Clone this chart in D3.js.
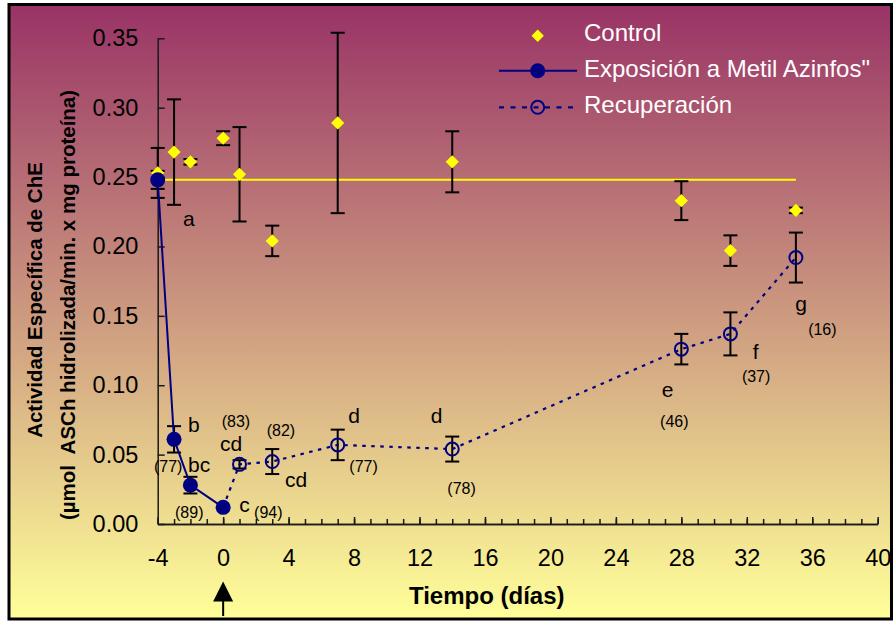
<!DOCTYPE html>
<html>
<head>
<meta charset="utf-8">
<script src="https://cdn.jsdelivr.net/npm/d3@7"></script>
<style>
  html, body { margin: 0; padding: 0; background: #ffffff; }
  svg { display: block; font-family: "Liberation Sans", Arial, sans-serif; }
</style>
</head>
<body>
<svg id="chart" width="893" height="621"></svg>
<script>
// Actividad específica de ChE (µmol ASCh hidrolizada/min. x mg proteína) por día
const controlDays  = [-4, -3, -2, 0, 1, 3, 7, 14, 28, 31, 35];
const controlMean  = [0.253, 0.268, 0.261, 0.278, 0.252, 0.204, 0.289, 0.261, 0.233, 0.197, 0.226];
const controlErr   = [0.018, 0.038, 0.002, 0.005, 0.034, 0.011, 0.065, 0.022, 0.014, 0.011, 0.002];
const controlLevel = 0.248;

const exposureDays = [-4, -3, -2, 0];
const exposureMean = [0.248, 0.061, 0.028, 0.012];
const exposureErr  = [0.0065, 0.0095, 0.006, 0];

const recoveryDays = [0, 1, 3, 7, 14, 28, 31, 35];
const recoveryMean = [0.012, 0.043, 0.045, 0.057, 0.054, 0.126, 0.137, 0.192];
const recoveryErr  = [0, 0.003, 0.009, 0.011, 0.009, 0.011, 0.0155, 0.018];

// letras de significación y porcentaje de inhibición
const sigLetters = ["a", "b", "bc", "c", "cd", "cd", "d", "d", "e", "f", "g"];
const inhibition = ["(77)", "(89)", "(94)", "(83)", "(82)", "(77)", "(78)", "(46)", "(37)", "(16)"];

const xTicks = [-4, 0, 4, 8, 12, 16, 20, 24, 28, 32, 36, 40];
const yTicks = [0, 0.05, 0.10, 0.15, 0.20, 0.25, 0.30, 0.35];
const seriesNames = ["Control", "Exposición a Metil Azinfos\"", "Recuperación"];
const xTitle = "Tiempo (días)";
const yTitle = ["Actividad Específica de ChE", "(µmol  ASCh hidrolizada/min. x mg proteína)"];

// ---------------------------------------------------------------------------
const svg = d3.select("#chart");
const NAVY = "#000080", YELLOW = "#ffff00";

const x = d3.scaleLinear().domain([-4, 40]).range([157.7, 877.7]);
const y = d3.scaleLinear().domain([0, 0.35]).range([524, 38.3]);

// background gradient + frame
const defs = svg.append("defs");
const grad = defs.append("linearGradient").attr("id", "bg")
  .attr("x1", 0).attr("y1", 0).attr("x2", 0).attr("y2", 1);
grad.append("stop").attr("offset", 0).attr("stop-color", "#993366");
grad.append("stop").attr("offset", 1).attr("stop-color", "#ffff99");

svg.append("rect")
  .attr("x", 9).attr("y", 4.5).attr("width", 882.5).attr("height", 614.5)
  .attr("fill", "url(#bg)").attr("stroke", "#000").attr("stroke-width", 3);

// axes
const axisColor = "#1a1a1a";
const styleAxis = g => {
  g.selectAll("path, line").attr("stroke", axisColor).attr("stroke-width", 1.5);
  g.selectAll("text").attr("fill", "#000").attr("font-size", 23.5)
    .attr("font-family", "\"Liberation Sans\", Arial, sans-serif");
};

svg.append("g").attr("transform", `translate(0,${y(0)})`)
  .call(d3.axisBottom(x).tickValues(d3.range(-4, 41, 1)).tickSize(-5).tickSizeOuter(0).tickFormat(""))
  .call(styleAxis);

svg.append("g").attr("transform", `translate(0,${y(0)})`)
  .call(d3.axisBottom(x).tickValues(xTicks).tickSize(-7).tickSizeOuter(0)
    .tickPadding(25).tickFormat(d => String(d)))
  .call(styleAxis);

svg.append("g").attr("transform", `translate(${x(-4)},0)`)
  .call(d3.axisLeft(y).tickValues(yTicks).tickSize(-7).tickSizeOuter(0)
    .tickPadding(19.4).tickFormat(d3.format(".2f")))
  .call(styleAxis);

// axis titles
svg.append("text")
  .attr("x", 486.7).attr("y", 604)
  .attr("text-anchor", "middle").attr("font-weight", "bold").attr("font-size", 24)
  .attr("fill", "#000").text(xTitle);

const yT = [[41.7, 300], [75, 305]];
yTitle.forEach((t, i) => {
  svg.append("text")
    .attr("transform", `translate(${yT[i][0]},${yT[i][1]}) rotate(-90)`)
    .attr("text-anchor", "middle").attr("font-weight", "bold").attr("font-size", 20.5)
    .style("white-space", "pre")
    .attr("fill", "#000").text(t);
});

// arrow marking day 0
const ax = x(0);
svg.append("path")
  .attr("d", `M${ax},581.5 L${ax - 10},601.5 L${ax + 10},601.5 Z`).attr("fill", "#000");
svg.append("line")
  .attr("x1", ax).attr("x2", ax).attr("y1", 600).attr("y2", 616)
  .attr("stroke", "#000").attr("stroke-width", 2);

// control reference level
svg.append("line")
  .attr("x1", x(-4)).attr("x2", x(35))
  .attr("y1", y(controlLevel)).attr("y2", y(controlLevel))
  .attr("stroke", YELLOW).attr("stroke-width", 2);

// error bars
const errorBars = (days, mean, err) => {
  const g = svg.append("g").attr("stroke", "#000").attr("stroke-width", 2).attr("fill", "none");
  days.forEach((d, i) => {
    if (!err[i]) return;
    const cx = x(d), top = y(mean[i] + err[i]), bot = y(mean[i] - err[i]);
    g.append("line").attr("x1", cx).attr("x2", cx).attr("y1", top).attr("y2", bot);
    g.append("line").attr("x1", cx - 7).attr("x2", cx + 7).attr("y1", top).attr("y2", top);
    g.append("line").attr("x1", cx - 7).attr("x2", cx + 7).attr("y1", bot).attr("y2", bot);
  });
};
errorBars(controlDays, controlMean, controlErr);
errorBars(exposureDays, exposureMean, exposureErr);
errorBars(recoveryDays, recoveryMean, recoveryErr);

// series lines
const line = d3.line().x(d => x(d[0])).y(d => y(d[1]));
svg.append("path")
  .datum(recoveryDays.map((d, i) => [d, recoveryMean[i]]))
  .attr("d", line).attr("fill", "none")
  .attr("stroke", NAVY).attr("stroke-width", 2.2).attr("stroke-dasharray", "3.5 5.5");
svg.append("path")
  .datum(exposureDays.map((d, i) => [d, exposureMean[i]]))
  .attr("d", line).attr("fill", "none")
  .attr("stroke", NAVY).attr("stroke-width", 2);

// markers
const diamond = s => `M0,${-s} L${s},0 L0,${s} L${-s},0 Z`;
svg.append("g").selectAll("path")
  .data(controlDays.map((d, i) => [d, controlMean[i]]))
  .join("path")
  .attr("transform", d => `translate(${x(d[0])},${y(d[1])})`)
  .attr("d", diamond(6.6)).attr("fill", YELLOW);

svg.append("g").selectAll("circle")
  .data(recoveryDays.map((d, i) => [d, recoveryMean[i]]).slice(1))
  .join("circle")
  .attr("cx", d => x(d[0])).attr("cy", d => y(d[1])).attr("r", 6.5)
  .attr("fill", "none").attr("stroke", NAVY).attr("stroke-width", 2);

svg.append("g").selectAll("circle")
  .data(exposureDays.map((d, i) => [d, exposureMean[i]]))
  .join("circle")
  .attr("cx", d => x(d[0])).attr("cy", d => y(d[1])).attr("r", 7.5)
  .attr("fill", NAVY);

// annotation anchors (day, activity) for the text baselines
const letterAt = [[-2.45, 0.2146], [-2.15, 0.0663], [-2.15, 0.0377], [0.99, 0.0089],
  [-0.19, 0.0526], [3.78, 0.0269], [7.65, 0.0725], [12.69, 0.0725],
  [26.81, 0.0917], [32.36, 0.1188], [34.96, 0.1534]];
const inhibitionAt = [[-4.23, 0.0378], [-2.94, 0.0043], [1.89, 0.0043], [-0.09, 0.0699],
  [2.66, 0.0634], [7.71, 0.0374], [13.70, 0.0216], [26.70, 0.0699],
  [31.70, 0.1023], [35.75, 0.1361]];

svg.append("g").selectAll("text")
  .data(sigLetters)
  .join("text")
  .attr("x", (d, i) => x(letterAt[i][0])).attr("y", (d, i) => y(letterAt[i][1]))
  .attr("font-size", 21).attr("fill", "#000").text(d => d);

svg.append("g").selectAll("text")
  .data(inhibition)
  .join("text")
  .attr("x", (d, i) => x(inhibitionAt[i][0])).attr("y", (d, i) => y(inhibitionAt[i][1]))
  .attr("font-size", 16).attr("fill", "#000").text(d => d);

// legend
const lg = svg.append("g");
const lx0 = 499, lx1 = 577, lm = 537.7, rows = [35.7, 70.7, 107.3], baselines = [41.3, 77.3, 112.7];
lg.append("path").attr("transform", `translate(${lm},${rows[0]})`)
  .attr("d", diamond(6.2)).attr("fill", YELLOW);
lg.append("line").attr("x1", lx0).attr("x2", lx1).attr("y1", rows[1]).attr("y2", rows[1])
  .attr("stroke", NAVY).attr("stroke-width", 2);
lg.append("circle").attr("cx", lm).attr("cy", rows[1]).attr("r", 7.5).attr("fill", NAVY);
lg.append("line").attr("x1", lx0).attr("x2", lx1).attr("y1", rows[2]).attr("y2", rows[2])
  .attr("stroke", NAVY).attr("stroke-width", 2.2).attr("stroke-dasharray", "5 6.5");
lg.append("circle").attr("cx", lm).attr("cy", rows[2]).attr("r", 6.5)
  .attr("fill", "none").attr("stroke", NAVY).attr("stroke-width", 2);
lg.selectAll("text").data(seriesNames).join("text")
  .attr("x", 584).attr("y", (d, i) => baselines[i])
  .attr("font-size", 24).attr("fill", "#ffffff").text(d => d);
</script>
</body>
</html>
